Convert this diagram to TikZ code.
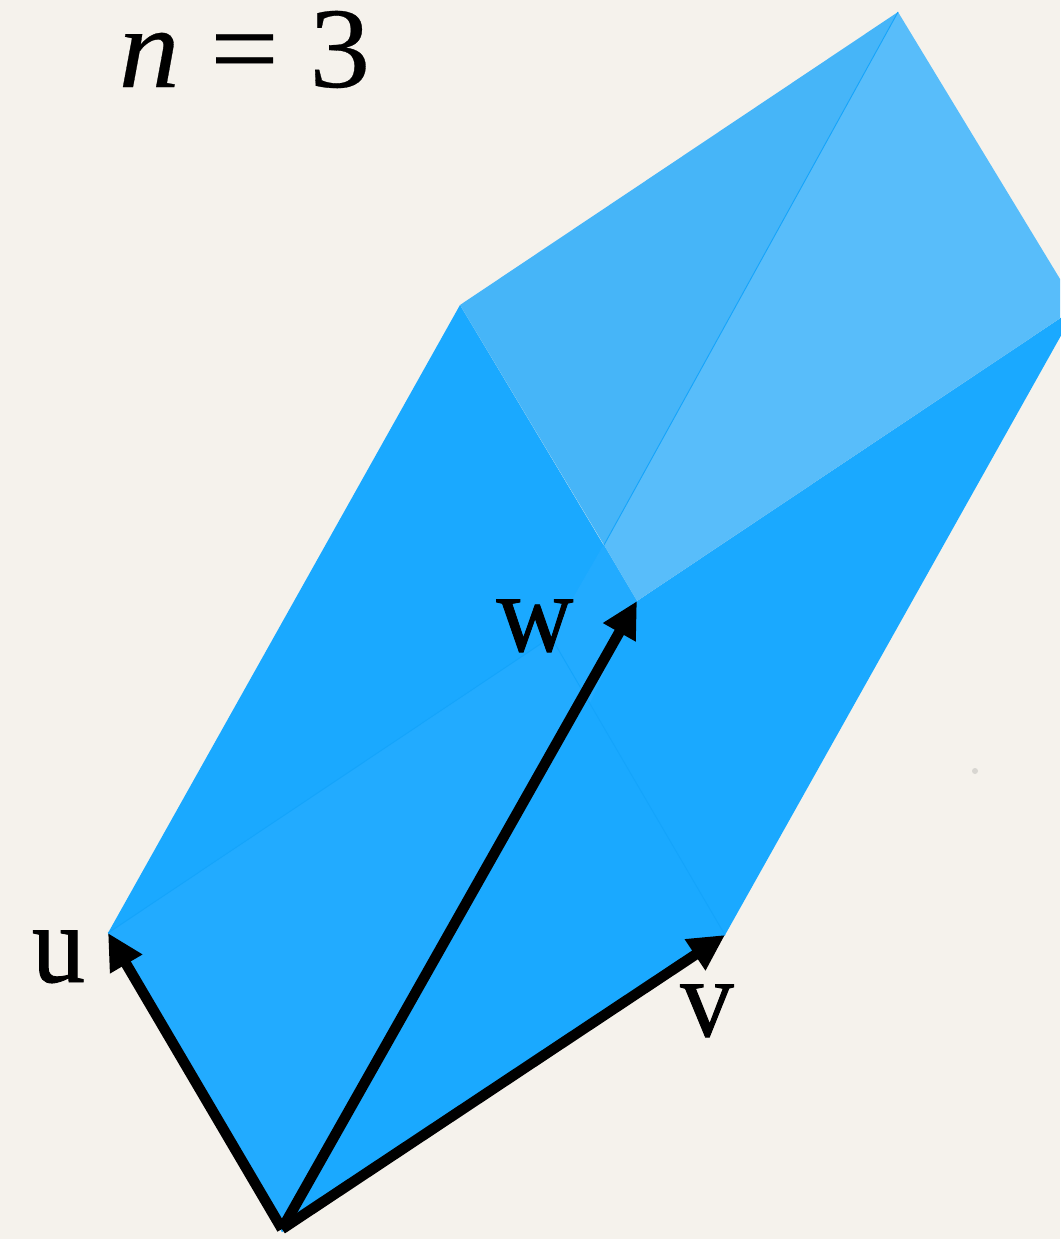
\documentclass[tikz,border=0pt]{standalone}
\usepackage{fontspec}
\setmainfont[FakeBold=0.8,FakeStretch=0.95]{Liberation Serif}
\newfontfamily\plainserif[FakeBold=0.25,FakeStretch=1.06]{Liberation Serif}
\usetikzlibrary{arrows.meta}
\definecolor{paper}{HTML}{F5F2EC}
\definecolor{speck}{HTML}{D8D6D1}
\definecolor{deep}{HTML}{1AA9FF}
\definecolor{mid}{HTML}{22ABFF}
\definecolor{topL}{HTML}{46B5F8}
\definecolor{topR}{HTML}{58BDFA}
\definecolor{hid}{HTML}{14A4FB}
\tikzset{
  x=1pt,y=-1pt,
  vec/.style={line width=10.5pt,-{Triangle[length=36pt,width=35pt]}},
  hiddenedge/.style={draw=hid,line width=0.9pt},
  lab/.style={inner sep=0pt,font=\fontsize{112}{112}\selectfont,text=black},
  face/.style={draw=none}
}
\begin{document}
\begin{tikzpicture}
\useasboundingbox (0,0) rectangle (1060,1239);
\fill[paper] (0,0) rectangle (1060,1239);
\fill[speck] (975,771) circle (3);
\coordinate (O) at (282,1232);
\coordinate (S) at (282,1229);
\coordinate (U) at (108,933);
\coordinate (V) at (725,935);
\coordinate (W) at (637,601);
\coordinate (H) at (551,637);
\coordinate (UW) at (460,305);
\coordinate (T) at (898,12);
\coordinate (VW) at (1077,307);
\coordinate (X) at (604,545);
\fill[deep,face] (O) -- (U) -- (UW) -- (W) -- (VW) -- (V) -- cycle;
\fill[mid,face] (O) -- (U) -- (H) -- (V) -- cycle;
\fill[deep,face] (O) -- (W) -- (V) -- cycle;
\fill[mid,face] (H) -- (X) -- (W) -- (590,703) -- cycle;
\begin{scope}
\clip (0,0) rectangle (1060,1239);
\fill[topL,face] (UW) -- (T) -- (X) -- cycle;
\fill[topR,face] (T) -- (VW) -- (W) -- (X) -- cycle;
\draw[hiddenedge] (X) -- (T);
\end{scope}
\draw[hiddenedge] (U) -- (H) -- (V);
\draw[hiddenedge,draw=mid] (H) -- (X);
\draw[vec] (S) -- (U);
\draw[vec] (S) -- (V);
\draw[vec] (S) -- (W);
\node[lab,anchor=base] (lu) at (58.5,982) {u};
\node[lab,anchor=base] (lv) at (707,1036) {v};
\node[lab,anchor=base] (lw) at (535,651) {w};
\node[inner sep=0pt,anchor=base,font=\fontsize{115}{115}\selectfont] (ln) at (244.5,87) {\plainserif\itshape n\upshape\ = 3};
\end{tikzpicture}
\end{document}
